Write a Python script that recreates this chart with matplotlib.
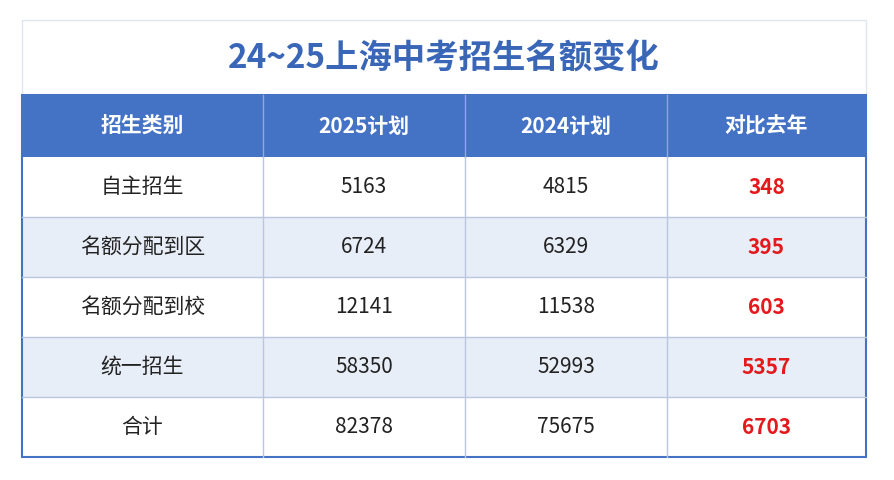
import matplotlib
matplotlib.use("Agg")
import matplotlib.pyplot as plt
from matplotlib.patches import Rectangle

plt.rcParams['font.family'] = ['Noto Sans CJK SC', 'DejaVu Sans']

title = "24~25上海中考招生名额变化"
headers = ["招生类别", "2025计划", "2024计划", "对比去年"]
categories = ["自主招生", "名额分配到区", "名额分配到校", "统一招生", "合计"]
plan_2025 = [5163, 6724, 12141, 58350, 82378]
plan_2024 = [4815, 6329, 11538, 52993, 75675]
diff = [348, 395, 603, 5357, 6703]

W, H = 894, 480
fig = plt.figure(figsize=(W/100, H/100), dpi=100)
ax = fig.add_axes([0, 0, 1, 1])
ax.set_xlim(0, W); ax.set_ylim(H, 0); ax.axis('off')

cols = [22, 263, 465, 667, 866]
top, head_top, head_bot, row_h = 20, 95, 157, 60
blue = "#4472C4"
nrows = len(categories)
bottom = head_bot + row_h*nrows

# title box
ax.add_patch(Rectangle((cols[0], top), cols[-1]-cols[0], head_top-top, fc="white", ec="#E0E6F0", lw=1))
ax.text((cols[0]+cols[-1])/2, (top+head_top)/2+2, title, ha='center', va='center',
        fontsize=24, fontweight='bold', color="#3A66B8")
# header
ax.add_patch(Rectangle((cols[0], head_top), cols[-1]-cols[0], head_bot-head_top, fc=blue, ec='none'))
for i, h in enumerate(headers):
    ax.text((cols[i]+cols[i+1])/2, (head_top+head_bot)/2, h, ha='center', va='center',
            fontsize=15, fontweight='bold', color='white')
# rows
for r in range(nrows):
    y0 = head_bot + r*row_h
    fc = "white" if r % 2 == 0 else "#E8EEF8"
    ax.add_patch(Rectangle((cols[0], y0), cols[-1]-cols[0], row_h, fc=fc, ec='none'))
    vals = [categories[r], str(plan_2025[r]), str(plan_2024[r]), str(diff[r])]
    for c, v in enumerate(vals):
        red = c == 3
        ax.text((cols[c]+cols[c+1])/2, y0+row_h/2, v, ha='center', va='center',
                fontsize=15, fontweight='bold' if red else 'normal',
                color="#E3191C" if red else "#222222")
    if r > 0:
        ax.plot([cols[0], cols[-1]], [y0, y0], color="#B8C6E0", lw=1)
for x in cols[1:-1]:
    ax.plot([x, x], [head_top, head_bot], color="#8FA9DA", lw=1)
    ax.plot([x, x], [head_bot, bottom], color="#B8C6E0", lw=1)
ax.add_patch(Rectangle((cols[0], head_top), cols[-1]-cols[0], bottom-head_top, fc='none', ec=blue, lw=1.5))

fig.savefig("out.png", dpi=100, facecolor="white")
